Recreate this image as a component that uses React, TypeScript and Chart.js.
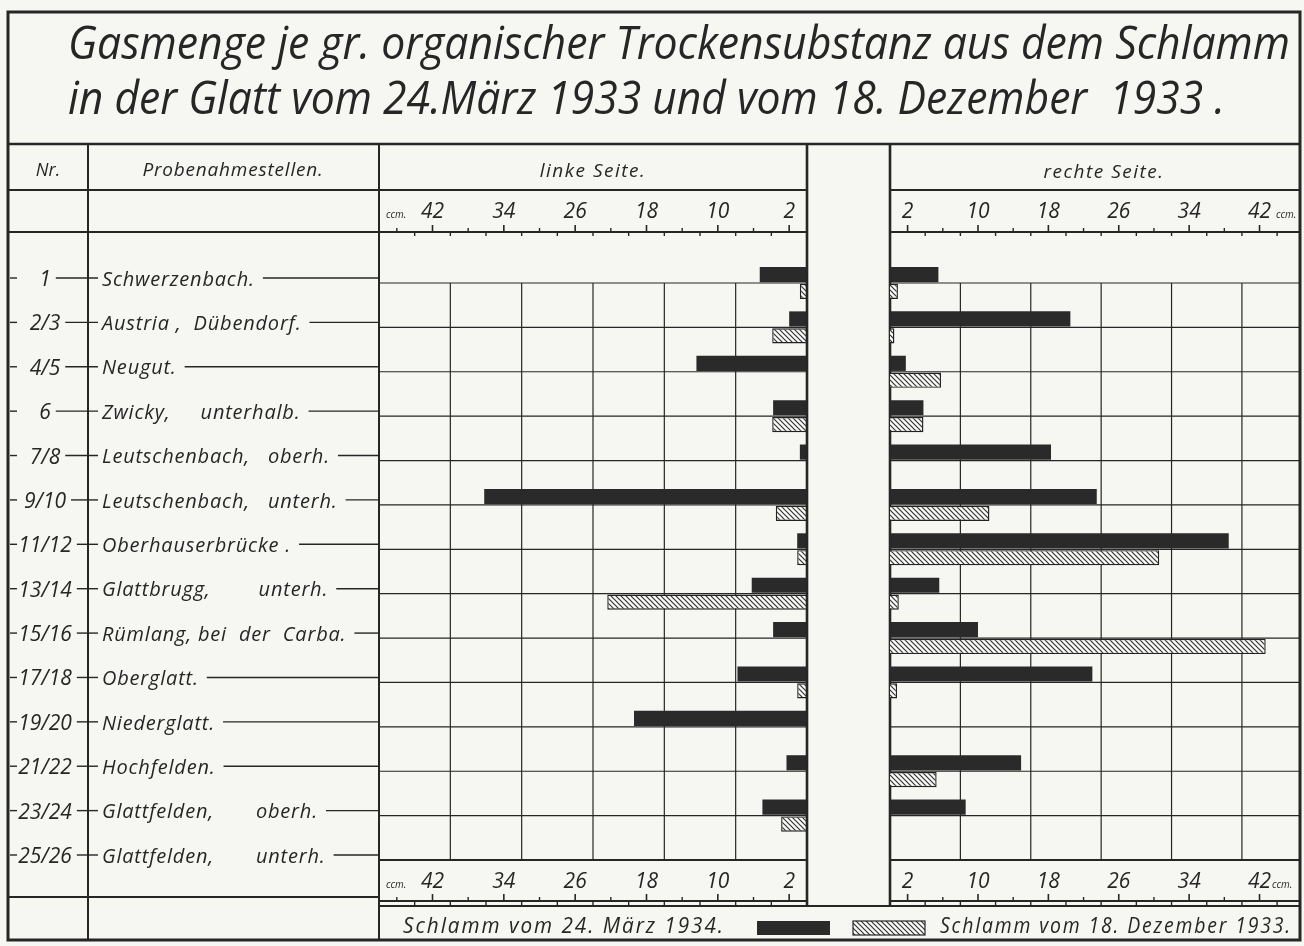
import React, { useEffect, useRef } from 'react';
import { Chart, registerables } from 'chart.js';

Chart.register(...registerables);

// ---------------- data ----------------
const sampleNumbers = ['1', '2/3', '4/5', '6', '7/8', '9/10', '11/12', '13/14', '15/16', '17/18', '19/20', '21/22', '23/24', '25/26'];
const stations = [
  'Schwerzenbach.',
  'Austria ,  Dübendorf.',
  'Neugut.',
  'Zwicky,     unterhalb.',
  'Leutschenbach,   oberh.',
  'Leutschenbach,   unterh.',
  'Oberhauserbrücke .',
  'Glattbrugg,        unterh.',
  'Rümlang, bei  der  Carba.',
  'Oberglatt.',
  'Niederglatt.',
  'Hochfelden.',
  'Glattfelden,       oberh.',
  'Glattfelden,       unterh.',
];
// left side (linke Seite), ccm
const leftMarch = [5.3, 2.0, 12.4, 3.8, 0.8, 36.2, 1.1, 6.2, 3.8, 7.8, 19.4, 2.3, 5.0, null];
const leftDec = [0.8, 3.9, null, 3.9, null, 3.5, 1.1, 22.4, null, 1.1, null, null, 2.9, null];
// right side (rechte Seite), ccm
const rightMarch = [5.5, 20.5, 1.8, 3.8, 18.3, 23.5, 38.5, 5.6, 10.0, 23.0, null, 14.9, 8.6, null];
const rightDec = [0.9, 0.5, 5.8, 3.8, null, 11.3, 30.6, 1.0, 42.7, 0.8, null, 5.3, null, null];
const axisLabels = [2, 10, 18, 26, 34, 42];
const seriesLabels = ['Schlamm vom 24. März 1934.', 'Schlamm vom 18. Dezember 1933.'];
const titleLines = [
  'Gasmenge je gr. organischer Trockensubstanz aus dem Schlamm',
  'in der Glatt vom 24.März 1933 und vom 18. Dezember  1933 .',
];
const headerTexts = ['Nr.', 'Probenahmestellen.', 'linke Seite.', 'rechte Seite.'];
const unitText = 'ccm.';

// ---------------- layout / style ----------------
const W = 1304;
const H = 946;
const PAPER = '#f6f6f3';
const INK = '#262626';
const BAR = '#2a2a2a';
const FONT = '"Open Sans", "DejaVu Sans", sans-serif';
const LY = {
  frameL: 8, frameR: 1300, frameT: 12, frameB: 940,
  titleB: 144, headB: 190, axisB: 232,
  colNr: 88, colName: 379, leftR: 807, rightL: 890,
  plotT: 283, plotB: 860, botAxisBase: 901, botAxisB: 906, leftTableB: 897,
};
const LEFT_MAX = 48;
const RIGHT_MAX = 46.6;
const GRID_STEP = 8;

function makeHatch(): CanvasPattern | string {
  const c = document.createElement('canvas');
  c.width = 5;
  c.height = 5;
  const g = c.getContext('2d');
  if (!g) return '#999';
  g.fillStyle = '#fbfbf9';
  g.fillRect(0, 0, 5, 5);
  g.strokeStyle = '#333';
  g.lineWidth = 1.2;
  g.beginPath();
  g.moveTo(-1, -1); g.lineTo(6, 6);
  g.moveTo(-1, 4); g.lineTo(1, 6);
  g.moveTo(4, -1); g.lineTo(6, 1);
  g.stroke();
  return g.createPattern(c, 'repeat') || '#999';
}

function seg(ctx: CanvasRenderingContext2D, x1: number, y1: number, x2: number, y2: number, lw: number) {
  ctx.lineWidth = lw;
  ctx.beginPath();
  ctx.moveTo(x1, y1);
  ctx.lineTo(x2, y2);
  ctx.stroke();
}

function txt(ctx: CanvasRenderingContext2D, s: string, x: number, y: number, size: number, align: CanvasTextAlign = 'left', spacing = 0, maxW?: number, weight = 400) {
  ctx.font = `italic ${weight} ${size}px ${FONT}`;
  ctx.textAlign = align;
  ctx.textBaseline = 'middle';
  (ctx as any).letterSpacing = `${spacing}px`;
  if (maxW) ctx.fillText(s, x, y, maxW);
  else ctx.fillText(s, x, y);
  (ctx as any).letterSpacing = '0px';
}

function drawGrid(chart: any) {
  const { ctx, chartArea: a } = chart;
  const x = chart.scales.x;
  const y = chart.scales.y;
  ctx.save();
  ctx.strokeStyle = INK;
  for (let v = GRID_STEP; v < x.max - 1; v += GRID_STEP) {
    const px = x.getPixelForValue(v);
    seg(ctx, px, a.top, px, a.bottom, 1.2);
  }
  for (let i = 0; i < chart.data.labels.length; i++) {
    const py = y.getPixelForValue(i);
    seg(ctx, a.left, py, a.right, py, 1.2);
  }
  ctx.restore();
}

function drawAxisRow(ctx: CanvasRenderingContext2D, x: any, baseY: number, labelY: number, unitX: number, unitY: number) {
  ctx.strokeStyle = INK;
  ctx.fillStyle = INK;
  seg(ctx, x.left, baseY, x.right, baseY, 1.8);
  for (let v = 2; v < x.max - 1; v += 2) {
    const px = x.getPixelForValue(v);
    if ((v - 2) % 8 === 0) seg(ctx, px, baseY, px, baseY - 7, 1.6);
    else if (v % 4 === 0) seg(ctx, px, baseY, px, baseY + 4, 1.4);
    else seg(ctx, px, baseY, px, baseY - 4, 1.4);
  }
  axisLabels.forEach((v) => {
    txt(ctx, String(v), x.getPixelForValue(v), labelY, 21, 'center');
  });
  txt(ctx, unitText, unitX, unitY, 10, 'left');
}

const leftPlugin = {
  id: 'leftFrame',
  beforeDatasetsDraw(chart: any) {
    drawGrid(chart);
  },
  afterDatasetsDraw(chart: any) {
    const { ctx } = chart;
    const x = chart.scales.x;
    const y = chart.scales.y;
    ctx.save();
    ctx.strokeStyle = INK;
    ctx.fillStyle = INK;

    // frame
    ctx.lineWidth = 3;
    ctx.strokeRect(LY.frameL, LY.frameT, LY.frameR - LY.frameL, LY.frameB - LY.frameT);
    seg(ctx, LY.frameL, LY.titleB, LY.frameR, LY.titleB, 2.5);
    // column lines
    seg(ctx, LY.colNr, LY.titleB, LY.colNr, LY.frameB, 2);
    seg(ctx, LY.colName, LY.titleB, LY.colName, LY.frameB, 2);
    seg(ctx, LY.leftR, LY.titleB, LY.leftR, LY.botAxisB, 2.6);
    seg(ctx, LY.rightL, LY.titleB, LY.rightL, LY.botAxisB, 2.6);
    // header rows
    seg(ctx, LY.frameL, LY.headB, LY.leftR, LY.headB, 2);
    seg(ctx, LY.rightL, LY.headB, LY.frameR, LY.headB, 2);
    seg(ctx, LY.frameL, LY.axisB, LY.leftR, LY.axisB, 2);
    seg(ctx, LY.rightL, LY.axisB, LY.frameR, LY.axisB, 2);
    // bottom rows
    seg(ctx, LY.colName, LY.plotB, LY.leftR, LY.plotB, 2);
    seg(ctx, LY.rightL, LY.plotB, LY.frameR, LY.plotB, 2);
    seg(ctx, LY.colName, LY.botAxisB, LY.frameR, LY.botAxisB, 2);
    seg(ctx, LY.frameL, LY.leftTableB, LY.colName, LY.leftTableB, 2);

    // title
    txt(ctx, titleLines[0], 68, 46, 46, 'left', 0, 1222);
    txt(ctx, titleLines[1], 68, 101, 46, 'left', 0, 1157);

    // headers
    txt(ctx, headerTexts[0], 48, 171, 18, 'center');
    txt(ctx, headerTexts[1], 233, 171, 19, 'center', 0.8);
    txt(ctx, headerTexts[2], 593, 172, 19, 'center', 1.5);
    txt(ctx, headerTexts[3], 1104, 173, 19, 'center', 1.5);

    // left axis rows
    drawAxisRow(ctx, x, LY.axisB, 212, 386, 215);
    drawAxisRow(ctx, x, LY.botAxisBase, 882, 386, 885);

    // row labels with leader lines
    for (let i = 0; i < sampleNumbers.length; i++) {
      const cy = y.getPixelForValue(i);
      const ly = cy - 5;
      seg(ctx, 10, ly, 17, ly, 1.4);
      ctx.font = `italic 500 21px ${FONT}`;
      const nw = ctx.measureText(sampleNumbers[i]).width;
      txt(ctx, sampleNumbers[i], 45, cy - 3, 21, 'center', 0, undefined, 500);
      seg(ctx, 45 + nw / 2 + 5, ly, 98, ly, 1.4);
      ctx.font = `italic 500 20px ${FONT}`;
      (ctx as any).letterSpacing = '0.8px';
      const sw = ctx.measureText(stations[i]).width;
      txt(ctx, stations[i], 102, cy - 3, 20, 'left', 0.8, undefined, 500);
      seg(ctx, 102 + sw + 8, ly, LY.colName, ly, 1.4);
    }

    // legend
    const ds = chart.data.datasets;
    txt(ctx, ds[0].label, 403, 927, 21, 'left', 2, 322);
    ctx.fillStyle = BAR;
    ctx.fillRect(757, 921, 73, 14);
    ctx.fillStyle = ds[1].backgroundColor;
    ctx.fillRect(853, 921, 72, 14);
    ctx.lineWidth = 1.2;
    ctx.strokeRect(853, 921, 72, 14);
    ctx.fillStyle = INK;
    txt(ctx, ds[1].label, 940, 927, 21, 'left', 2, 352);

    ctx.restore();
  },
};

const rightPlugin = {
  id: 'rightFrame',
  beforeDatasetsDraw(chart: any) {
    drawGrid(chart);
  },
  afterDatasetsDraw(chart: any) {
    const { ctx } = chart;
    const x = chart.scales.x;
    ctx.save();
    drawAxisRow(ctx, x, LY.axisB, 212, 1276, 215);
    drawAxisRow(ctx, x, LY.botAxisBase, 882, 1272, 885);
    ctx.restore();
  },
};

function makeConfig(march: (number | null)[], dec: (number | null)[], hatch: any, reverse: boolean, max: number, padding: any, plugin: any): any {
  return {
    type: 'bar',
    data: {
      labels: stations,
      datasets: [
        { label: seriesLabels[0], data: march, backgroundColor: BAR, borderWidth: 0, clip: false },
        { label: seriesLabels[1], data: dec, backgroundColor: hatch, borderColor: '#222', borderWidth: 1.4, clip: false },
      ],
    },
    options: {
      indexAxis: 'y',
      animation: false,
      responsive: false,
      maintainAspectRatio: false,
      devicePixelRatio: 1,
      layout: { padding },
      categoryPercentage: 0.76,
      barPercentage: 0.9,
      plugins: { legend: { display: false }, tooltip: { enabled: false }, title: { display: false } },
      scales: {
        x: { type: 'linear', reverse, min: 0, max, display: false },
        y: { type: 'category', offset: false, display: false, grid: { offset: false } },
      },
    },
    plugins: [plugin],
  };
}

export default function App() {
  const leftRef = useRef<HTMLCanvasElement>(null);
  const rightRef = useRef<HTMLCanvasElement>(null);

  useEffect(() => {
    document.body.style.margin = '0';
    const hatch = makeHatch();
    const left = new Chart(
      leftRef.current as HTMLCanvasElement,
      makeConfig(leftMarch, leftDec, hatch, true, LEFT_MAX,
        { left: LY.colName, right: W - LY.leftR, top: LY.plotT, bottom: H - LY.plotB }, leftPlugin)
    );
    const right = new Chart(
      rightRef.current as HTMLCanvasElement,
      makeConfig(rightMarch, rightDec, hatch, false, RIGHT_MAX,
        { left: LY.rightL, right: W - LY.frameR, top: LY.plotT, bottom: H - LY.plotB }, rightPlugin)
    );
    return () => {
      left.destroy();
      right.destroy();
    };
  }, []);

  return (
    <div style={{ position: 'absolute', left: 0, top: 0, width: W, height: H, background: PAPER, overflow: 'hidden' }}>
      <canvas ref={leftRef} width={W} height={H} style={{ position: 'absolute', left: 0, top: 0 }} />
      <canvas ref={rightRef} width={W} height={H} style={{ position: 'absolute', left: 0, top: 0 }} />
    </div>
  );
}
